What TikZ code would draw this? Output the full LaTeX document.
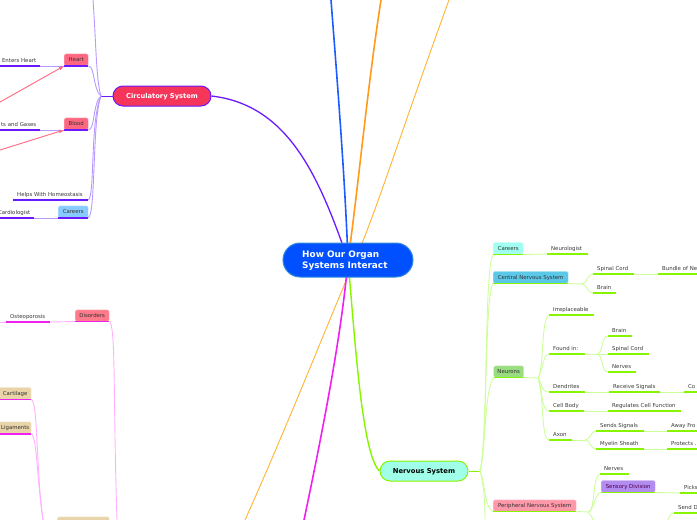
\documentclass[tikz,border=0pt]{standalone}
\usepackage{fontspec}
\setmainfont{DejaVu Sans}
\usetikzlibrary{arrows.meta,backgrounds}
\definecolor{pur}{HTML}{6A1AFF}\definecolor{purl}{HTML}{B799FF}
\definecolor{grn}{HTML}{88F500}\definecolor{grnl}{HTML}{CCFF99}
\definecolor{mag}{HTML}{F020F0}\definecolor{magl}{HTML}{FFB0FF}
\definecolor{blu}{HTML}{1A5CFF}\definecolor{org}{HTML}{FF9A1A}\definecolor{orgt}{HTML}{FFB333}
\definecolor{txt}{HTML}{383838}\definecolor{pnk}{HTML}{FF6680}
\definecolor{cream}{HTML}{E8D4A8}\definecolor{skyb}{HTML}{88CCFF}\definecolor{aqua}{HTML}{A0FFF0}
\definecolor{cnsb}{HTML}{5CC8E8}\definecolor{neug}{HTML}{99DD80}\definecolor{pnsp}{HTML}{FF99AA}
\definecolor{sensv}{HTML}{B38CF0}\definecolor{disr}{HTML}{FF7A8A}
\tikzset{
 leaf/.style={anchor=south west,inner xsep=4pt,inner ysep=2pt,text height=4pt,text depth=1.5pt,align=left,font=\fontsize{5.4}{6}\selectfont,text=txt},
 tbox/.style={anchor=south west,inner sep=0pt,rounded corners=1.5pt,text height=4pt,text depth=.5pt,font=\fontsize{5.4}{6}\selectfont,text=black!80},
 major/.style={rounded corners=10pt,line width=1pt,inner sep=0pt,anchor=center,text height=5pt,text depth=.5pt},
 ulp/.style={draw=pur,line width=1.3pt},ulg/.style={draw=grn,line width=1.3pt},ulm/.style={draw=mag,line width=1.3pt},
 lkp/.style={draw=purl,line width=.9pt},lkg/.style={draw=grnl,line width=.9pt},lkm/.style={draw=magl,line width=.9pt},
 rel/.style={draw=pnk,line width=.9pt,-{Latex[length=5pt,width=4pt]}}
}
\newcommand\leaf[5]{\pgfmathsetlengthmacro\tw{#4-8pt}\node[leaf,text width=\tw] (#1) at (#2,#3) {#5};}
\newcommand\bx[7]{\node[tbox,fill=#6,draw=#6!45!white,line width=.4pt,minimum width=#4pt,minimum height=#5pt] (#1) at (#2,#3) {#7};}
\newcommand\ul[2]{\draw[#1] (#2.south west) -- (#2.south east);}
\begin{document}
\begin{tikzpicture}[x=1pt,y=-1pt]
\useasboundingbox (0,0) rectangle (697,520);
\clip (0,0) rectangle (697,520);
% central and main topics
\node[major,rounded corners=17pt,fill={rgb,255:red,0;green,80;blue,255},draw={rgb,255:red,50;green,140;blue,215},minimum width=130pt,minimum height=34pt] (central) at (348,260) {};
\node[anchor=west,inner sep=0pt,align=left,text=white,font=\fontsize{8.9}{11}\bfseries\selectfont] (ctitle) at (302,260.5) {How Our Organ\\Systems Interact};
\node[major,fill={rgb,255:red,245;green,53;blue,90},draw=pur,minimum width=98pt,minimum height=20pt,text=white,font=\fontsize{6.7}{7}\bfseries\selectfont] (circ) at (162,96) {Circulatory System};
\node[major,fill={rgb,255:red,160;green,255;blue,232},draw=grn,minimum width=88pt,minimum height=20pt,text=black,font=\fontsize{6.8}{7}\bfseries\selectfont] (nerv) at (424,471) {Nervous System};
% free ends
\coordinate (topblue) at (331,0);\coordinate (toporg) at (381,0);\coordinate (toporgt) at (449,0);
\coordinate (botorgt) at (245,520);\coordinate (botmag) at (304,520);\coordinate (midorgt) at (355,260);
\coordinate (hubc) at (101,96);\coordinate (hubn) at (480,471);\coordinate (topc) at (93,0);
\coordinate (botn) at (485,520);\coordinate (botp) at (593,520);
\begin{scope}[on background layer]
\draw[pur,line width=1.3pt] (circ.east) .. controls (290,105) and (320,180) .. (central.center);
\draw[blu,line width=1.6pt] (central.center) .. controls (345,180) and (338,90) .. (topblue);
\draw[org,line width=1.6pt] (central.center) .. controls (358,190) and (367,90) .. (toporg);
\draw[orgt,line width=.9pt] (toporgt) .. controls (400,135) and (375,215) .. (midorgt) .. controls (335,305) and (290,420) .. (botorgt);
\draw[mag,line width=1.6pt] (central.center) .. controls (342,330) and (325,420) .. (botmag);
\draw[grn,line width=1.4pt] (central.center) .. controls (355,340) and (362,455) .. (nerv.west);
\end{scope}
% circulatory
\draw[ulp,line width=1pt] (circ.west) -- (hubc);
\bx{heart}{64}{66}{24}{12}{pnk}{Heart}
\bx{blood}{64}{130}{24}{12}{pnk}{Blood}
\bx{ccareers}{58}{218}{30}{12}{skyb}{Careers}
\leaf{enters}{-30}{66}{70}{\hfill Enters Heart\hspace{1pt}}
\leaf{gases}{-30}{130}{70}{\hfill ts and Gases\hspace{1pt}}
\leaf{homeo}{13}{200}{75}{Helps With Homeostasis}
\leaf{cardio}{-30}{218}{64}{\hfill Cardiologist\hspace{1pt}}
\draw[lkp] (hubc) .. controls (96,80) and (96,40) .. (topc);
\draw[lkp] (heart.south east) .. controls (95,66) and (93,90) .. (hubc);
\draw[lkp] (blood.south east) .. controls (95,130) and (93,102) .. (hubc);
\draw[lkp] (homeo.south east) .. controls (95,196) and (90,120) .. (hubc);
\draw[lkp] (ccareers.south east) .. controls (96,212) and (92,120) .. (hubc);
\draw[lkp] (enters.south east) -- (heart.south west);
\draw[lkp] (gases.south east) -- (blood.south west);
\draw[lkp] (cardio.south east) -- (ccareers.south west);
\foreach \n in {heart,blood,ccareers,enters,gases,homeo,cardio}{\ul{ulp}{\n}}
\coordinate (relh) at (0,102);\coordinate (relb) at (0,150);
\draw[rel] (relh) -- (heart.south west);
\draw[rel] (relb) -- (blood.south west);
% skeletal (left, lower)
\bx{disorders}{75}{321.5}{34}{11.5}{disr}{Disorders}
\bx{cart}{-3}{399.5}{34}{12}{cream}{\hspace{2pt}Cartilage}
\bx{liga}{-3}{434}{34}{12}{cream}{\hspace{2pt}Ligaments}
\bx{creamb}{57}{535}{52}{18}{cream}{}
\leaf{osteo}{6}{322}{44}{Osteoporosis}
\coordinate (osteoL) at (0,322);\coordinate (botd) at (117,520);\coordinate (botc) at (43,520);
\draw[lkm] (osteoL) -- (osteo.south west);
\draw[lkm] (osteo.south east) -- (disorders.south west);
\draw[lkm] (disorders.south east) .. controls (116,326) and (113,400) .. (botd);
\draw[lkm] (cart.south east) .. controls (38,402) and (36,470) .. (botc);
\draw[lkm] (liga.south east) .. controls (37,437) and (37,480) .. (botc);
\foreach \n in {disorders,cart,liga,osteo}{\ul{ulm}{\n}}
% nervous
\draw[ulg,line width=1pt] (nerv.east) -- (hubn);
\bx{ncareers}{493}{254.5}{30}{12}{aqua}{Careers}
\bx{cns}{493}{283.5}{75}{12}{cnsb}{Central Nervous System}
\bx{neurons}{493.5}{377.5}{30}{11.5}{neug}{Neurons}
\bx{pns}{493}{511.5}{83}{11.5}{pnsp}{Peripheral Nervous System}
\bx{sens}{601}{492.5}{54}{12}{sensv}{\textcolor{violet!60!black}{Sensory Division}}
\coordinate (neuL) at (538,378);\coordinate (cnsR) at (582,284);\coordinate (pnsR) at (588,512);
\coordinate (foundR) at (597,354);\coordinate (axonR) at (585,440);\coordinate (sendL) at (668,520);
\leaf{neuro}{547}{254}{41}{Neurologist}
\leaf{spinal}{593}{274}{41}{Spinal Cord}
\leaf{bundle}{658}{274}{60}{Bundle of Ne}
\leaf{cbrain}{593}{293}{23}{Brain}
\leaf{irre}{549}{315}{45}{Irreplaceable}
\leaf{found}{549}{354}{36}{Found in:}
\leaf{fbrain}{608}{336}{24}{Brain}
\leaf{fspinal}{608}{354}{41}{Spinal Cord}
\leaf{fnerves}{608}{372}{28}{Nerves}
\leaf{dend}{549}{392}{36}{Dendrites}
\leaf{recv}{609}{392}{51}{Receive Signals}
\leaf{con}{684}{392}{30}{Co}
\leaf{cell}{549}{411}{35}{Cell Body}
\leaf{regu}{608}{411}{73}{Regulates Cell Function}
\leaf{axon}{549}{440}{23}{Axon}
\leaf{sends}{596}{431}{48}{Sends Signals}
\leaf{away}{667}{431}{45}{Away Fro}
\leaf{myel}{596}{449}{48}{Myelin Sheath}
\leaf{prot}{667}{449}{45}{Protects .}
\leaf{pnerves}{600}{474}{29}{Nerves}
\leaf{picks}{680}{493}{40}{Picks}
\leaf{sendd}{674}{513}{45}{Send D}
\draw[lkg] (hubn) .. controls (488,440) and (484,270) .. (ncareers.south west);
\draw[lkg] (hubn) .. controls (488,440) and (484,300) .. (cns.south west);
\draw[lkg] (hubn) .. controls (486,450) and (484,392) .. (neurons.south west);
\draw[lkg] (hubn) .. controls (485,480) and (484,508) .. (pns.south west);
\draw[lkg] (hubn) .. controls (484,485) and (485,505) .. (botn);
\draw[lkg] (ncareers.south east) -- (neuro.south west);
\draw[lkg] (cns.south east) -- (cnsR);
\draw[lkg] (cnsR) .. controls (587,284) and (587,274) .. (spinal.south west);
\draw[lkg] (cnsR) .. controls (587,284) and (587,293) .. (cbrain.south west);
\draw[lkg] (spinal.south east) -- (bundle.south west);
\draw[lkg] (neurons.south east) -- (neuL);
\draw[lkg] (neuL) .. controls (544,370) and (541,318) .. (irre.south west);
\draw[lkg] (neuL) .. controls (543,370) and (543,354) .. (found.south west);
\draw[lkg] (neuL) .. controls (543,385) and (541,392) .. (dend.south west);
\draw[lkg] (neuL) .. controls (543,390) and (541,411) .. (cell.south west);
\draw[lkg] (neuL) .. controls (544,395) and (541,440) .. (axon.south west);
\draw[lkg] (found.south east) -- (foundR);
\draw[lkg] (foundR) .. controls (603,354) and (601,336) .. (fbrain.south west);
\draw[lkg] (foundR) -- (fspinal.south west);
\draw[lkg] (foundR) .. controls (603,354) and (601,372) .. (fnerves.south west);
\draw[lkg] (dend.south east) -- (recv.south west);
\draw[lkg] (recv.south east) -- (con.south west);
\draw[lkg] (cell.south east) -- (regu.south west);
\draw[lkg] (axon.south east) -- (axonR);
\draw[lkg] (axonR) .. controls (591,440) and (590,431) .. (sends.south west);
\draw[lkg] (axonR) .. controls (591,440) and (590,449) .. (myel.south west);
\draw[lkg] (sends.south east) -- (away.south west);
\draw[lkg] (myel.south east) -- (prot.south west);
\draw[lkg] (pns.south east) -- (pnsR);
\draw[lkg] (pnsR) .. controls (596,510) and (592,476) .. (pnerves.south west);
\draw[lkg] (pnsR) .. controls (595,510) and (594,493) .. (sens.south west);
\draw[lkg] (pnsR) .. controls (591,514) and (592,517) .. (botp);
\draw[lkg] (sens.south east) -- (picks.south west);
\draw[lkg] (sendL) .. controls (670,515) and (671,513) .. (sendd.south west);
\foreach \n in {ncareers,cns,neurons,pns,sens,neuro,spinal,bundle,cbrain,irre,found,fbrain,fspinal,fnerves,dend,recv,con,cell,regu,axon,sends,away,myel,prot,pnerves,picks,sendd}{\ul{ulg}{\n}}
\end{tikzpicture}
\end{document}
